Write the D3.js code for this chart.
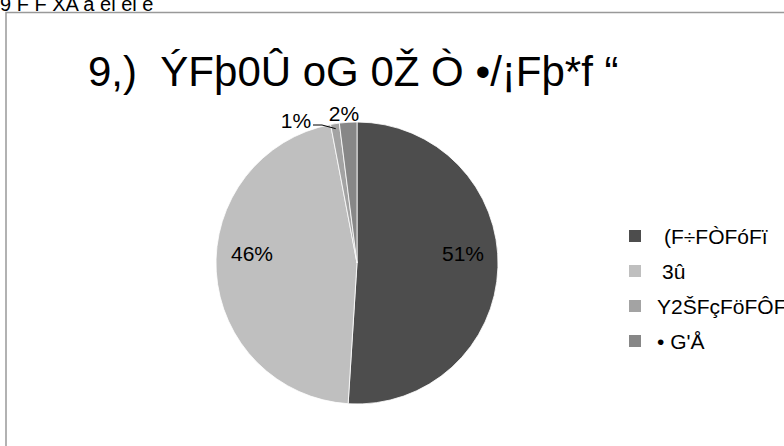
<!DOCTYPE html>
<html><head><meta charset="utf-8">
<script src="https://cdn.jsdelivr.net/npm/d3@7"></script>
<style>body{margin:0;background:#fff}svg{display:block;font-family:Arial,"Liberation Sans",sans-serif}</style>
</head><body><svg id="c" width="784" height="446"></svg>
<script>
const categories = ["(F÷FÒFóFï", "3û", "Y2ŠFçFöFÔF", "• G'Å"];
const values = [51, 46, 1, 2];
const labels = ["51%", "46%", "1%", "2%"];
const colors = ["#4d4d4d", "#bfbfbf", "#a3a3a3", "#878787"];
const title = "9,)  ÝFþ0Û oG 0Ž Ò •/¡Fþ*f “";
const header = "9 F F XA a el el e";

const svg = d3.select("#c");
svg.append("text").attr("x", 0).attr("y", 11).attr("font-size", 20).attr("fill", "#000").text(header);
svg.append("rect").attr("x", 6).attr("y", 12.5).attr("width", 800).attr("height", 460)
  .attr("fill", "none").attr("stroke", "#999").attr("stroke-width", 1.5);
svg.append("text").attr("x", 88).attr("y", 86).attr("font-size", 42).attr("fill", "#000")
  .attr("xml:space", "preserve").style("white-space", "pre").text(title);

const cx = 357, cy = 263, r = 141;
const pie = d3.pie().sort(null).value(d => d)(values);
const arc = d3.arc().innerRadius(0).outerRadius(r);
const g = svg.append("g").attr("transform", `translate(${cx},${cy})`);
g.selectAll("path").data(pie).join("path").attr("d", arc)
  .attr("fill", (d, i) => colors[i]).attr("stroke", "#fff").attr("stroke-width", 0.8);

const lab = svg.append("g").attr("font-size", 21).attr("fill", "#000");
lab.append("text").attr("x", 463).attr("y", 261).attr("text-anchor", "middle").text(labels[0]);
lab.append("text").attr("x", 252).attr("y", 261).attr("text-anchor", "middle").text(labels[1]);
lab.append("text").attr("x", 296).attr("y", 128).attr("text-anchor", "middle").text(labels[2]);
lab.append("text").attr("x", 344).attr("y", 121).attr("text-anchor", "middle").text(labels[3]);
// leader line for the small slice
const mid = (pie[2].startAngle + pie[2].endAngle) / 2;
const ex = cx + Math.sin(mid) * (r - 5), ey = cy - Math.cos(mid) * (r - 5);
svg.append("path").attr("d", `M313,125 L322,125 L${ex},${ey}`).attr("fill", "none").attr("stroke", "#000").attr("stroke-width", 1);

const leg = svg.append("g").attr("font-size", 21);
categories.forEach((c, i) => {
  const y = 236 + i * 35;
  leg.append("rect").attr("x", 629).attr("y", y - 6).attr("width", 12).attr("height", 12).attr("fill", colors[i]);
  leg.append("text").attr("x", i === 0 ? 664 : (i === 1 ? 662 : 657)).attr("y", y + 7.5).attr("fill", "#000").text(c);
});
</script></body></html>
